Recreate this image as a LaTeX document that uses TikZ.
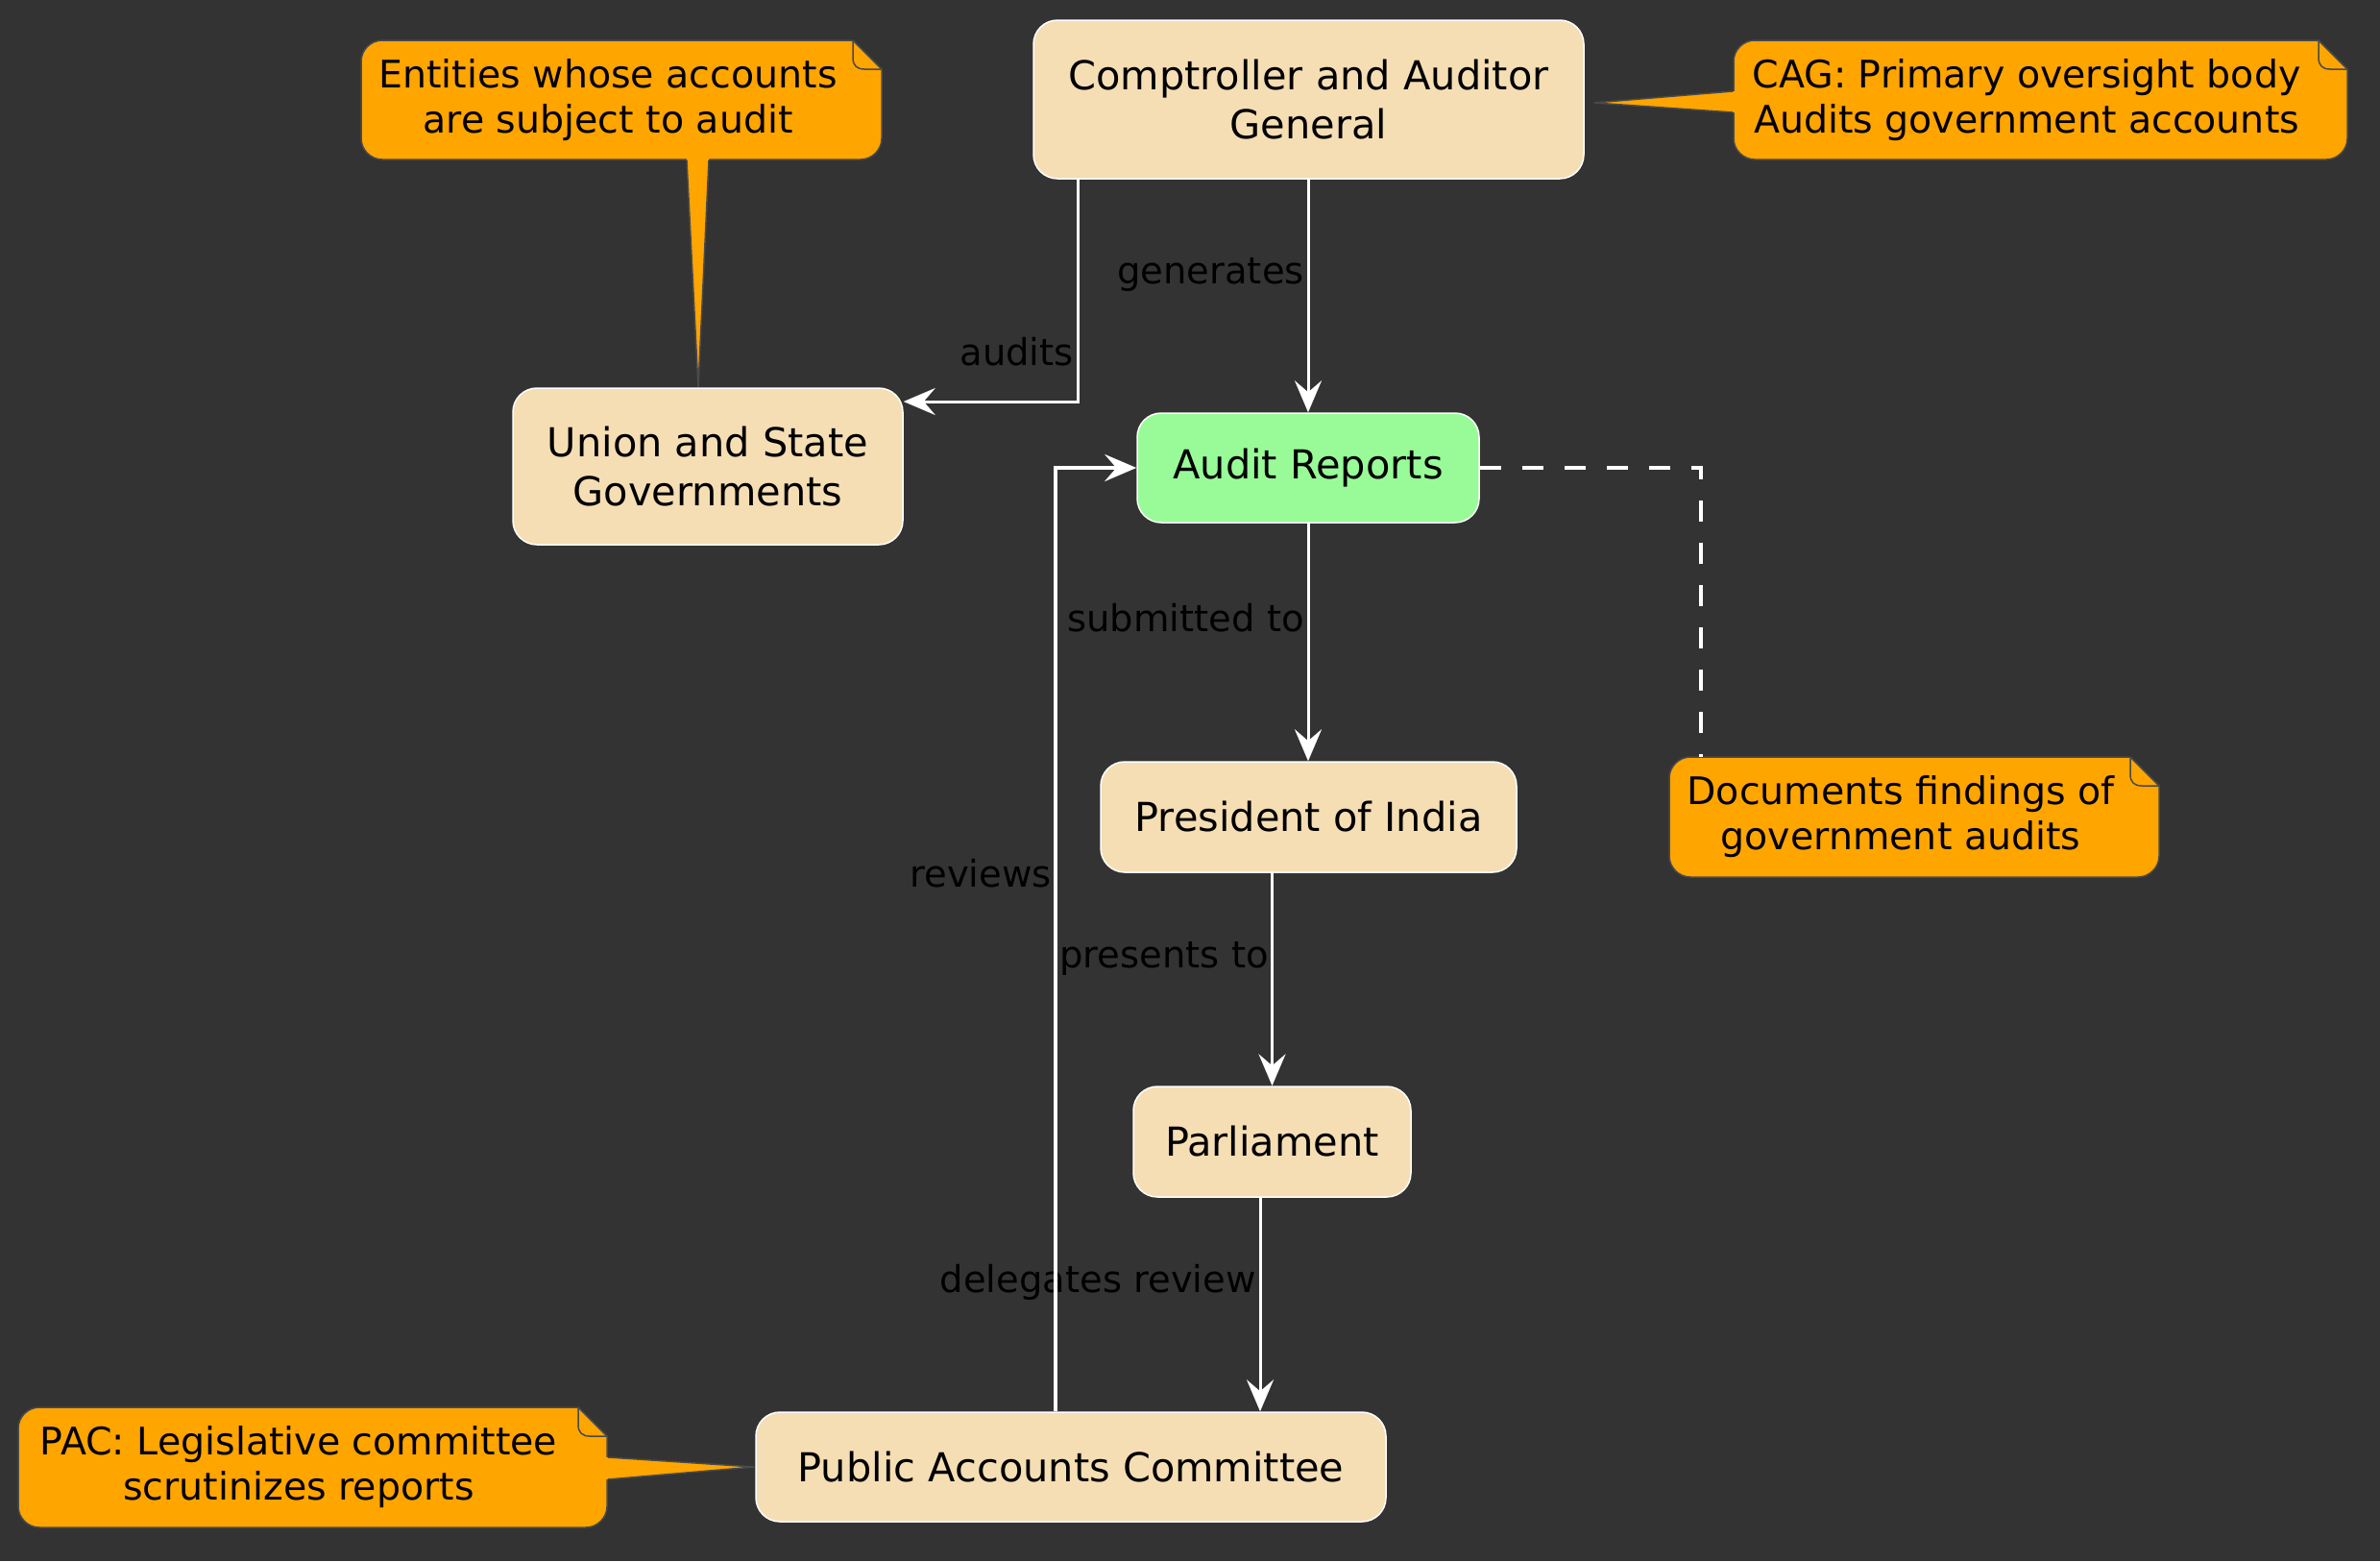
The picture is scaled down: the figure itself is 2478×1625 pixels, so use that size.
\documentclass[tikz,border=0pt]{standalone}
\usepackage{fontspec}
\setmainfont{DejaVu Sans}
\usetikzlibrary{arrows.meta,calc}
\definecolor{bgc}{HTML}{333333}
\definecolor{wheatc}{HTML}{F5DEB3}
\definecolor{greenc}{HTML}{98FB98}
\definecolor{notec}{HTML}{FFA500}
\definecolor{noteborder}{HTML}{4A4A4A}
\newcommand\nodefont{\fontsize{41.5}{50.6}\selectfont}
\newcommand\lblfont{\fontsize{38.5}{46}\selectfont}
\newcommand\notefont{\fontsize{39.5}{47}\selectfont}
% note body with folded top-right corner: x1 y1 x2 y2
\newcommand\mynote[4]{%
  \filldraw[notebody] ({#3-30},#2) -- ({#1+22},#2)
    .. controls ({#1+10},#2) and (#1,{#2+10}) .. (#1,{#2+22})
    -- (#1,{#4-22})
    .. controls (#1,{#4-10}) and ({#1+10},#4) .. ({#1+22},#4)
    -- ({#3-22},#4)
    .. controls ({#3-10},#4) and (#3,{#4-10}) .. (#3,{#4-22})
    -- (#3,{#2+30}) -- cycle;
  \draw[notefold] ({#3-30},#2) -- ({#3-30},{#2+18})
    .. controls ({#3-30},{#2+26}) and ({#3-26},{#2+30}) .. ({#3-18},{#2+30})
    -- (#3,{#2+30});
}
\begin{document}
\begin{tikzpicture}[x=1pt,y=-1pt,
  box/.style={draw=white, line width=1.5pt, fill=wheatc, rounded corners=25pt,
    inner sep=0pt, align=center, font=\nodefont, text=black},
  lbl/.style={anchor=base east, inner sep=0pt, font=\lblfont, text=black},
  notetext/.style={inner sep=0pt, align=center, font=\notefont, text=black},
  notebody/.style={fill=notec, draw=noteborder, line width=1.5pt},
  notefold/.style={draw=noteborder, line width=1.5pt},
  ptrline/.style={draw=noteborder, line width=1.5pt},
  arr/.style={draw=white, line width=3pt, -{Stealth[length=33pt,width=28pt,inset=12pt]}},
  dashline/.style={draw=white, line width=3.5pt, dash pattern=on 22pt off 22pt}
]
\fill[bgc] (0,0) rectangle (2478,1625);
\useasboundingbox (0,0) rectangle (2478,1625);

% ---- notes ----
\mynote{376}{42}{918}{166}
\fill[notec] (715,166) -- (715,160) -- (738,160) -- (738,166) -- (727,403) -- cycle;
\draw[ptrline] (715,166.8) -- (727,403) -- (738,166.8);
\node[notetext] (n1) at (633,104) {Entities whose accounts\\are subject to audit};

\mynote{1805}{42}{2444}{166}
\fill[notec] (1805,95) -- (1811,95) -- (1811,117) -- (1805,117) -- (1660,107) -- cycle;
\draw[ptrline] (1804.2,95) -- (1660,107) -- (1804.2,117);
\node[notetext] (n2) at (2110,104) {CAG: Primary oversight body\\Audits government accounts};

\mynote{1738}{788}{2248}{913}
\node[notetext] (n3) at (1979,850.5) {Documents findings of\\government audits};

\mynote{19}{1465}{632}{1590}
\fill[notec] (632,1517) -- (626,1517) -- (626,1540) -- (632,1540) -- (785,1527) -- cycle;
\draw[ptrline] (632.8,1517) -- (785,1527) -- (632.8,1540);
\node[notetext] (n4) at (311,1527.5) {PAC: Legislative committee\\scrutinizes reports};

% ---- nodes ----
\node[box, minimum width=573pt, minimum height=165pt] (cag) at (1362.5,103.5) {Comptroller and Auditor\\General};
\node[box, minimum width=406pt, minimum height=163pt] (union) at (737,485.5) {Union and State\\Governments};
\node[box, fill=greenc, minimum width=356pt, minimum height=114pt] (ar) at (1362,487) {Audit Reports};
\node[box, minimum width=433pt, minimum height=115pt] (pres) at (1362.5,850.5) {President of India};
\node[box, minimum width=289pt, minimum height=115pt] (parl) at (1324.5,1188.5) {Parliament};
\node[box, minimum width=656pt, minimum height=114pt] (pac) at (1115,1527) {Public Accounts Committee};

% ---- edge labels ----
\node[lbl] (l1) at (1118,380) {audits};
\node[lbl] (l2) at (1358,295) {generates};
\node[lbl] (l3) at (1358,657) {submitted to};
\node[lbl] (l4) at (1095,923) {reviews};
\node[lbl] (l5) at (1321,1007) {presents to};
\node[lbl] (l6) at (1308,1345) {delegates review};

% ---- helper coordinates ----
\coordinate (auX) at (1122.7,0);
\coordinate (auY) at (0,418);
\coordinate (rvX) at (1099,0);
\coordinate (dgX) at (1312,0);
\coordinate (docTop) at (1771,788);

% ---- connectors ----
\draw[arr] (cag.south -| auX) -- (auX |- auY) -- (union.east |- auY);
\draw[arr] (cag.south -| ar.north) -- (ar.north);
\draw[arr] (ar.south) -- (ar.south |- pres.north);
\draw[arr] (parl.north |- pres.south) -- (parl.north);
\draw[arr] (parl.south -| dgX) -- (pac.north -| dgX);
\draw[arr, line width=4.5pt] (pac.north -| rvX) |- (ar.west);
\draw[dashline] (ar.east) -| (docTop);
\end{tikzpicture}
\end{document}
